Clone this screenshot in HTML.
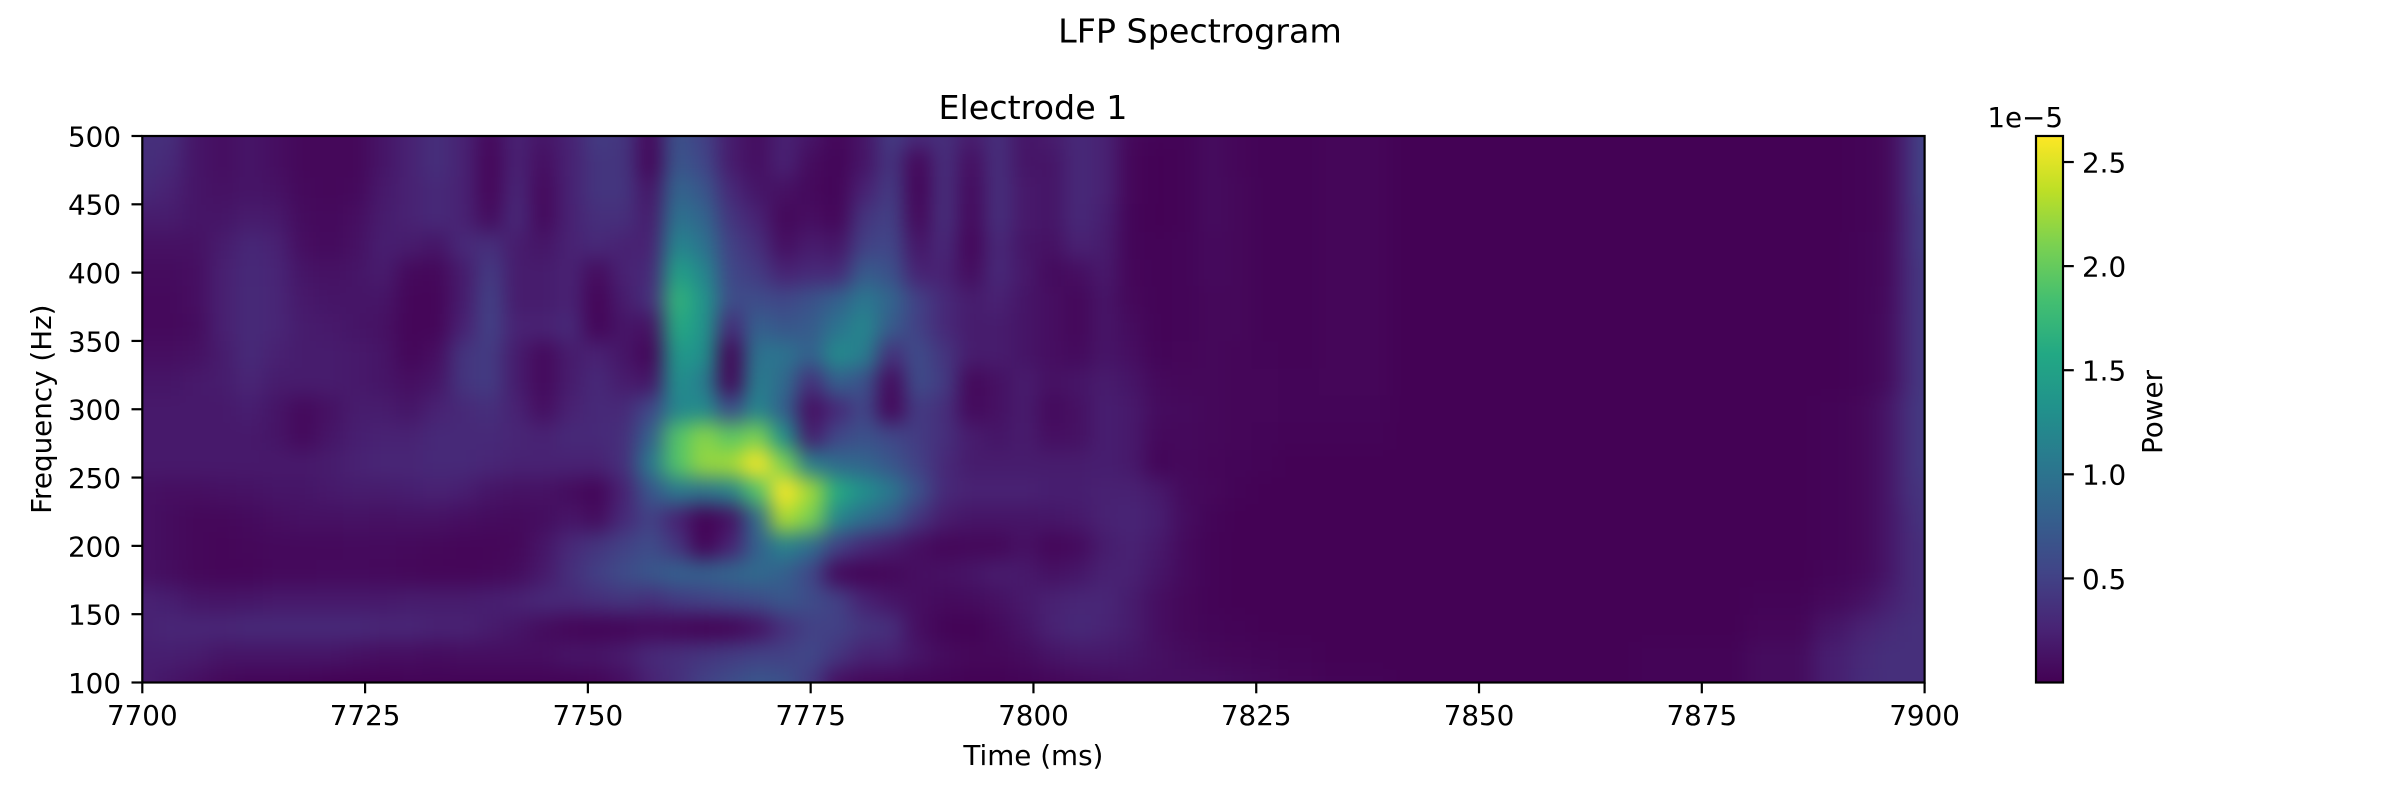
<!DOCTYPE html>
<html lang="en">
<head>
<meta charset="utf-8">
<title>LFP Spectrogram</title>
<style>
html,body{margin:0;padding:0;background:#fff;}
body{width:2400px;height:800px;overflow:hidden;}
svg{display:block;}
text{font-family:"DejaVu Sans","Liberation Sans",sans-serif;fill:#000;}
</style>
</head>
<body>
<svg id="figure" xmlns="http://www.w3.org/2000/svg" width="2400" height="800" viewBox="0 0 2400 800">
  <defs>
    <filter id="smooth" filterUnits="userSpaceOnUse" x="40" y="40" width="2000" height="740" color-interpolation-filters="sRGB">
      <feGaussianBlur stdDeviation="10"/>
    </filter>
    <clipPath id="axes-clip"><rect x="142.3" y="136" width="1782.3" height="546.5"/></clipPath>
    <linearGradient id="viridis-gradient" x1="0" y1="1" x2="0" y2="0"></linearGradient>
  </defs>
  <rect x="0" y="0" width="2400" height="800" fill="#fff"/>
  <text x="1200" y="42.5" font-size="33.33" text-anchor="middle">LFP Spectrogram</text>
  <text x="1033" y="119" font-size="33.33" text-anchor="middle">Electrode 1</text>
  <g clip-path="url(#axes-clip)">
    <g id="heatmap" filter="url(#smooth)"></g>
  </g>
  <rect x="142.3" y="136" width="1782.3" height="546.5" fill="none" stroke="#000" stroke-width="2.2"/>
  <g id="x-ticks"></g>
  <g id="y-ticks"></g>
  <text x="1033.4" y="765" font-size="27.78" text-anchor="middle">Time (ms)</text>
  <text x="0" y="0" font-size="27.78" text-anchor="middle" transform="translate(51,409.2) rotate(-90)">Frequency (Hz)</text>
  <rect x="2036" y="136" width="27" height="546.5" fill="url(#viridis-gradient)"/>
  <rect x="2036" y="136" width="27" height="546.5" fill="none" stroke="#000" stroke-width="2.2"/>
  <g id="cbar-ticks"></g>
  <text x="2063" y="127" font-size="27.78" text-anchor="end">1e−5</text>
  <text x="0" y="0" font-size="27.78" text-anchor="middle" transform="translate(2162,412) rotate(-90)">Power</text>
</svg>
<script>
// Axis ticks
const xTickValues = [7700, 7725, 7750, 7775, 7800, 7825, 7850, 7875, 7900];
const yTickValues = [100, 150, 200, 250, 300, 350, 400, 450, 500];
const colorbarTickValues = [0.5, 1.0, 1.5, 2.0, 2.5];
const colorbarTickLabels = ["0.5", "1.0", "1.5", "2.0", "2.5"];

// Time (ms) of each heatmap column
const timeValues = [7700,7703,7706,7709,7712,7715,7718,7721,7724,7727,7730,7733,7736,7739,
  7742,7745,7748,7751,7754,7757,7760,7763,7766,7769,7772,7775,7778,7781,
  7784,7787,7790,7793,7796,7799,7802,7805,7808,7811,7814,7817,7820,7823,7826,7829,
  7835,7845,7860,7875,7885,7890,7893,7896,7898,7900];

// Frequency (Hz) of each heatmap row
const frequencyValues = [500,480,460,440,420,400,380,360,340,320,300,280,260,240,220,200,180,160,140,120,100];

// Power per row, in units of 1e-6
const power500 = [3.5,3.5,1.5,1,1.5,1,.5,.5,.5,1.5,2.5,3.5,2.5,.6, 2.5,1.5,2.5,4.5,4,.6,6.5,5,2,.9,2.5,1.5,.4,1.5, 4.5,3,3.5,2,3.5,1.5,2,3,2.5,.5,.2,.2,.8,.4,.2,.2, .4,.1,.1,.1,.1,.1,.2,.5,3,5.5];
const power480 = [3.5,3,1.5,1,1.5,1,.5,.5,.5,1.5,2.5,3.5,2.5,.4, 2.5,1,2.5,4,4,.3,7,5.5,2,1,2.5,.8,.3,1.5, 4,.4,3.5,1,3.5,1.5,1.5,3,2.5,.4,.1,.2,.8,.4,.2,.2, .4,.1,.1,.1,.1,.1,.2,.5,3,5.5];
const power460 = [3,2.5,1.5,1.2,1.5,1.3,.6,.5,.6,1.8,2.5,3,2.5,.4, 2.8,.6,2.5,4,4,1.5,8.5,7,3,1.5,1.2,.6,.3,2.5, 4.5,.2,3.5,.7,3.5,1.8,1.5,3,2.5,.4,.1,.2,.8,.5,.2,.2, .4,.1,.1,.1,.1,.1,.2,.5,3,5.5];
const power440 = [2,2,1.5,1.5,2,1.8,.8,.6,1,2,2.5,3,2.5,.8, 3,.6,2.5,3.5,3.5,2,10,8.5,4,2.5,.5,1,.4,4, 5,.5,3.5,.6,3.5,1.8,1.5,3,2.2,.3,.1,.2,.8,.5,.2,.2, .4,.1,.1,.1,.1,.1,.2,.5,3,5];
const power420 = [1.2,1.2,1.2,2,2.9,2.5,1,.7,1.2,2.2,2,1.5,3,3.5, 2,1.5,2.5,3,2.5,2.5,12,10,5,3.5,1,2,1.5,5, 5.5,1.5,3,.3,3,1.5,1.2,2.5,2,.3,.2,.3,.7,.5,.2,.2, .4,.1,.1,.1,.1,.1,.3,.6,3,5];
const power400 = [.8,.8,1,2.3,3,2.7,1.5,1.2,1.5,2,.6,.5,2,4.5, 2,2,2.5,.8,2.5,3,15,12,5.5,4.5,2.5,3,3,7.5, 6.5,2.5,2.5,.8,3,1.8,.7,1,1.8,.4,.2,.3,.7,.5,.2,.2, .4,.1,.1,.1,.1,.1,.3,.6,3,4.5];
const power380 = [.6,.6,1,2.3,3.1,2.8,1.8,1.5,1.5,1.5,.4,.4,2,5, 2,2,2.5,.2,2,3.5,17,13.5,6,6,5.5,6.5,8,10.5, 8.5,5,3,2,2.5,1.5,1,.5,1.5,.5,.2,.3,.5,.5,.2,.2, .4,.1,.1,.1,.1,.1,.3,.7,3,4.5];
const power360 = [.6,.6,.8,2.3,3.1,2.8,2,1.8,1.5,1.2,.4,.4,2.5,5, 2.5,2.5,3,.3,1.5,1.2,16,13.5,3,8,7,7.5,10,12, 7.5,5,3,2,2,1.5,1,.5,1.5,.8,.2,.3,.5,.5,.2,.2, .4,.1,.1,.1,.1,.1,.3,.8,3,4.5];
const power340 = [1,1,1.2,2,3.1,2.4,2,2,1.8,1.5,.4,1,4,4.5, 2,.6,2,2.5,1.5,.3,14,13,.1,10,10,8,12.5,11, 3.5,6,4,2,2,1.5,1,.7,1.5,1,.3,.4,.5,.4,.3,.2, .4,.1,.1,.1,.1,.1,.3,.8,3,4.5];
const power320 = [1.5,1.5,1.8,2,2.8,2,2,2,1.8,1.5,1,1.5,4,4.5, 2,.6,2,3,2,1.5,13,11,.2,11,9,3.5,8,6.5, .6,6,4.5,.5,1.2,2,1.2,1.5,2,1.5,.6,.5,.5,.4,.4,.3, .4,.1,.1,.1,.1,.1,.3,.8,3,4.5];
const power300 = [1.8,1.8,1.8,1.8,2.2,1.5,.6,1.2,2,2,1.5,2.5,3,3.5, 2.5,1,2.5,3,3,5.5,12,12.5,6,12,8,1,3,5.5, .3,4.5,3.5,.6,1.2,2,.6,1.2,2.2,1.8,.8,.7,.5,.4,.4,.3, .3,.1,.1,.1,.1,.2,.5,1.5,3.5,4.5];
const power280 = [1.8,1.8,1.8,1.8,1.8,1.5,.6,1.5,2.2,2.5,2.5,3,3,3, 2.8,2.5,3,3,3.5,8,19,21.5,19.5,21,13,2,5.5,6.5, 5.5,4.5,3.5,2,1.5,2,1,1.2,2.2,1.8,.6,.6,.5,.4,.3,.2, .2,.1,.1,.1,.1,.2,.5,1.5,3.5,4.5];
const power260 = [1.8,1.8,1.8,1.8,1.8,1.8,1.8,2,2.5,2.8,2.8,3,3,2.8, 2.5,2.5,2.5,2.5,3.5,10.5,19,22,22.5,26,21,11,9,8.5, 7,5,3,2,2,2,2,2,2.2,1.8,.3,.6,.4,.3,.2,.1, .1,.1,.1,.1,.1,.2,.5,1.5,3.5,4.5];
const power240 = [1.2,1,1,1.2,1.3,1.5,1.5,1.8,2,2,2.2,2.5,2.2,1.5, 1.3,1.3,.8,.3,2.5,7,10.5,10,11.5,19,26.2,22.5,16,13, 10.5,6.5,3,2.5,2.5,2.5,2.2,2.2,2.4,2.4,1.8,.7,.5,.2,.1,.1, .1,.1,.1,.1,.1,.2,.5,1.5,3.5,4];
const power220 = [1.2,.8,.5,.5,.7,1,1.2,1.2,1.3,1.2,1.3,1.3,1,.8, .7,.9,1.5,.8,3,5,2.5,.1,1.2,9,23,21,12,9.5, 7.5,4,2,1.5,1.5,1.5,1.6,1.8,2.5,2.7,2.2,.9,.3,.1,.1,.1, .1,.1,.1,.1,.1,.2,.5,1.5,3,4];
const power200 = [1.2,.8,.5,.4,.5,.6,.6,.6,.7,.7,.6,.5,.4,.4, .5,1.5,3,4,5,6,4,.2,2.5,8,11.5,9.5,5,3, 2,1,.4,.5,.5,1.2,.4,.7,2,2.5,1.8,.7,.2,.1,.1,.1, .1,.1,.1,.1,.1,.2,.5,1.5,3,3.5];
const power180 = [1.3,.9,.5,.4,.4,.6,.6,.7,.7,.6,.5,.4,.4,.5, .8,1.8,3.5,4.8,6,7,8,8,8.5,9,8,5.5,.6,.2, .5,1,1.2,1.5,2,1.8,1.2,1.6,2.4,2.4,1.5,.7,.2,.1,.1,.1, .1,.1,.1,.1,.1,.3,.6,1.5,3,3.5];
const power160 = [2.5,2.2,1.6,1.5,1.6,1.8,1.8,1.8,1.8,1.8,2,2,2,2.2, 2.5,3,3,3.5,4,3.5,4.5,5,5.5,6,7,6,5,2.5, 1.5,1,.7,.8,1.2,1.8,2.4,2.8,2.8,2,1,.5,.2,.1,.1,.1, .1,.1,.1,.1,.2,.6,1.2,2.2,3,3.5];
const power140 = [2.5,2.8,2.8,2.8,3,3,3,3,3,2.8,2.8,2.5,2.5,2, 1.5,.8,.4,.2,.3,.6,.4,.1,.2,1.2,3.5,5,5,4, 3.5,1,.2,.1,.7,1.4,2.5,3,2.6,2,1,.5,.3,.2,.1,.1, .1,.1,.1,.1,.4,1.5,2.5,3,3.5,3.5];
const power120 = [2.2,2.2,2,1.5,1.5,1.5,1.5,1.5,1.2,1,1,.8,1,1, 1,1,1.5,1.5,2,3,3.5,4,4.5,5,5,5.5,4,2.5, 2.5,1.5,.8,.5,.5,.8,1.4,1.8,1.8,1.6,1.1,.8,.5,.4,.3,.2, .1,.1,.1,.2,.8,2.2,3,3.5,3.5,3.5];
const power100 = [2,1.5,1,.5,.3,.3,.2,.1,.1,.1,.2,.2,.2,.2, .2,.2,.2,.4,1,2.5,3.5,5,6,7,6.5,4.5,1,.5, .4,.3,.2,.1,.1,.2,.4,.6,.8,1,1,1,1,.8,.6,.4, .2,.1,.1,.2,.8,2.2,3.2,3.5,3.5,3.5];

const powerRows = [power500,power480,power460,power440,power420,power400,power380,power360,power340,power320,power300,power280,power260,power240,power220,power200,power180,power160,power140,power120,power100];

// Viridis colormap anchors
const viridisColors = ["#440154","#482475","#414487","#355f8d","#2a788e","#21918c","#22a884","#44bf70","#7ad151","#bddf26","#fde725"];

const NS = "http://www.w3.org/2000/svg";
const axLeft = 142.3, axRight = 1924.6, axTop = 136, axBottom = 682.5;
const powerMin = 0, powerMax = 26.25;

function xScale(t){ return axLeft + (t - 7700) / 200 * (axRight - axLeft); }
function yScale(f){ return axBottom - (f - 100) / 400 * (axBottom - axTop); }
function cbarScale(v){ return axBottom - (v * 10 - powerMin) / (powerMax - powerMin) * (axBottom - axTop); }

function hexToRgb(h){ return [parseInt(h.slice(1,3),16), parseInt(h.slice(3,5),16), parseInt(h.slice(5,7),16)]; }
function colorFor(v){
  let u = (v - powerMin) / (powerMax - powerMin);
  u = Math.max(0, Math.min(1, u));
  const p = u * (viridisColors.length - 1);
  const i = Math.min(Math.floor(p), viridisColors.length - 2);
  const a = hexToRgb(viridisColors[i]), b = hexToRgb(viridisColors[i + 1]), k = p - i;
  return "rgb(" + a.map((c, n) => Math.round(c + (b[n] - c) * k)).join(",") + ")";
}

// Heatmap cells
const heatmap = document.getElementById("heatmap");
const overscan = 60;
powerRows.forEach((row, r) => {
  const f = frequencyValues[r];
  const yA = r === 0 ? axTop - overscan : (yScale(f) + yScale(frequencyValues[r - 1])) / 2;
  const yB = r === frequencyValues.length - 1 ? axBottom + overscan : (yScale(f) + yScale(frequencyValues[r + 1])) / 2;
  row.forEach((value, c) => {
    const t = timeValues[c];
    const xA = c === 0 ? axLeft - overscan : (xScale(t) + xScale(timeValues[c - 1])) / 2;
    const xB = c === timeValues.length - 1 ? axRight + overscan : (xScale(t) + xScale(timeValues[c + 1])) / 2;
    const cell = document.createElementNS(NS, "rect");
    
    
    cell.setAttribute("x", xA.toFixed(2));
    cell.setAttribute("y", yA.toFixed(2));
    cell.setAttribute("width", (xB - xA + 0.6).toFixed(2));
    cell.setAttribute("height", (yB - yA + 0.6).toFixed(2));
    cell.setAttribute("fill", colorFor(value));
    heatmap.appendChild(cell);
  });
});

// Colorbar gradient
const gradient = document.getElementById("viridis-gradient");
viridisColors.forEach((color, i) => {
  const stop = document.createElementNS(NS, "stop");
  stop.setAttribute("offset", (i / (viridisColors.length - 1)).toFixed(3));
  stop.setAttribute("stop-color", color);
  gradient.appendChild(stop);
});

// X axis ticks
const xTicks = document.getElementById("x-ticks");
xTickValues.forEach(value => {
  const x = xScale(value);
  const line = document.createElementNS(NS, "line");
  
  
  line.setAttribute("x1", x); line.setAttribute("x2", x);
  line.setAttribute("y1", axBottom); line.setAttribute("y2", axBottom + 10.8);
  line.setAttribute("stroke", "#000"); line.setAttribute("stroke-width", "2.2");
  xTicks.appendChild(line);
  const label = document.createElementNS(NS, "text");
  
  
  label.setAttribute("x", x); label.setAttribute("y", 725);
  label.setAttribute("font-size", "27.78");
  label.setAttribute("text-anchor", "middle");
  label.textContent = String(value);
  xTicks.appendChild(label);
});

// Y axis ticks
const yTicks = document.getElementById("y-ticks");
yTickValues.forEach(value => {
  const y = yScale(value);
  const line = document.createElementNS(NS, "line");
  
  
  line.setAttribute("x1", axLeft - 10.8); line.setAttribute("x2", axLeft);
  line.setAttribute("y1", y); line.setAttribute("y2", y);
  line.setAttribute("stroke", "#000"); line.setAttribute("stroke-width", "2.2");
  yTicks.appendChild(line);
  const label = document.createElementNS(NS, "text");
  
  
  label.setAttribute("x", 121); label.setAttribute("y", y + 10.4);
  label.setAttribute("font-size", "27.78");
  label.setAttribute("text-anchor", "end");
  label.textContent = String(value);
  yTicks.appendChild(label);
});

// Colorbar ticks
const cbarTicks = document.getElementById("cbar-ticks");
colorbarTickValues.forEach((value, i) => {
  const y = cbarScale(value);
  const line = document.createElementNS(NS, "line");
  
  
  line.setAttribute("x1", 2063); line.setAttribute("x2", 2073.8);
  line.setAttribute("y1", y); line.setAttribute("y2", y);
  line.setAttribute("stroke", "#000"); line.setAttribute("stroke-width", "2.2");
  cbarTicks.appendChild(line);
  const label = document.createElementNS(NS, "text");
  
  
  label.setAttribute("x", 2082); label.setAttribute("y", y + 10.4);
  label.setAttribute("font-size", "27.78");
  label.textContent = colorbarTickLabels[i];
  cbarTicks.appendChild(label);
});
</script>
</body>
</html>
